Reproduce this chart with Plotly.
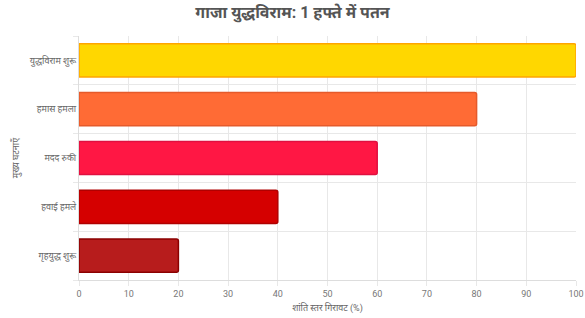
import plotly.graph_objects as go

categories = ["युद्धविराम शुरू", "हमास हमला", "मदद रुकी", "हवाई हमले", "गृहयुद्ध शुरू"]
values = [100, 80, 60, 40, 20]
fill_colors = ["#FFD700", "#FF6B35", "#FF1744", "#D50000", "#B71C1C"]
line_colors = ["#FFA500", "#E55A2B", "#E01040", "#B00000", "#8B0000"]
x_ticks = list(range(0, 101, 10))

pos = list(range(len(categories)))

fig = go.Figure(go.Bar(
    x=values,
    y=pos,
    orientation="h",
    width=0.68,
    marker=dict(color=fill_colors, line=dict(color=line_colors, width=1.5)),
))

fig.update_layout(
    width=585, height=318,
    margin=dict(l=79, r=9, t=36, b=38),
    paper_bgcolor="white", plot_bgcolor="white",
    font=dict(family="Roboto, Noto Sans, sans-serif", color="#666", size=10),
    title=dict(text="<b>गाजा युद्धविराम: 1 हफ्ते में पतन</b>", x=0.5, xanchor="center",
               y=0.962, yanchor="middle", font=dict(size=16, color="#555")),
    showlegend=False,
    barcornerradius=2,
)
fig.update_xaxes(
    range=[0, 100], tickvals=x_ticks, showgrid=True, gridcolor="#e8e8e8", gridwidth=1,
    zeroline=False, showline=True, linecolor="#ddd", automargin=False,
    ticks="outside", ticklen=5, tickcolor="#e8e8e8",
    tickfont=dict(size=9, color="#777"),
    title=dict(text="शांति स्तर गिरावट (%)", font=dict(size=9, color="#666"), standoff=6),
)
fig.update_yaxes(
    range=[4.5, -0.5], tickvals=pos, ticktext=categories, showgrid=False, automargin=False,
    minor=dict(tickvals=[i + 0.5 for i in range(-1, len(categories))], showgrid=True,
               gridcolor="#e8e8e8", ticks="outside", ticklen=5, tickcolor="#e8e8e8"),
    zeroline=False, showline=True, linecolor="#ddd",
    ticks="", tickfont=dict(size=9, color="#666"),
    title=dict(text="मुख्य घटनाएँ", font=dict(size=9, color="#666"), standoff=8),
)

fig.write_html("out.html")
